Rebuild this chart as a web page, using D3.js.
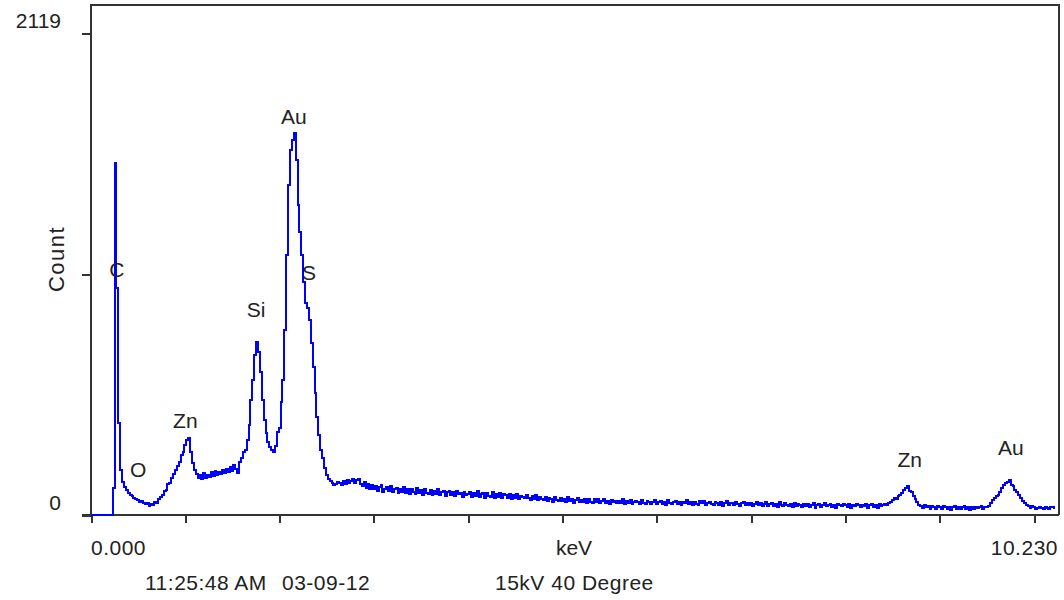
<!DOCTYPE html>
<html>
<head>
<meta charset="utf-8">
<title>EDS spectrum</title>
<script src="https://d3js.org/d3.v7.min.js"></script>
<style>
  body { margin: 0; background: #fff; }
  svg { display: block; }
  text { font-family: "Liberation Sans", Arial, sans-serif; fill: #222; }
  .axis path, .axis line { stroke: #333; stroke-width: 2px; shape-rendering: crispEdges; }
</style>
</head>
<body>
<svg width="1064" height="600"></svg>
<script>
// spectrum channels, 0.02 keV wide, starting at 0 keV
const channelKeV = 0.02;
const counts = [
  0, 0, 0, 0, 0, 0, 0, 0, 0, 0,
  0, 0, 120, 1547, 1000, 404, 198, 145, 123, 110,
  97, 88, 84, 75, 70, 66, 57, 62, 53, 48,
  53, 40, 48, 44, 57, 53, 70, 79, 88, 105,
  110, 136, 141, 163, 180, 198, 215, 233, 264, 277,
  308, 330, 338, 277, 229, 198, 180, 163, 176, 158,
  185, 163, 176, 167, 189, 171, 193, 176, 189, 180,
  198, 185, 202, 189, 211, 193, 220, 202, 185, 233,
  251, 277, 286, 330, 396, 506, 593, 703, 760, 716,
  629, 506, 418, 360, 321, 299, 286, 277, 303, 365,
  382, 497, 593, 813, 1143, 1451, 1605, 1648, 1679, 1561,
  1363, 1244, 1143, 1024, 932, 910, 857, 756, 651, 536,
  431, 352, 286, 251, 207, 176, 158, 149, 141, 132,
  136, 145, 141, 132, 149, 136, 154, 141, 149, 158,
  141, 154, 158, 136, 127, 145, 119, 136, 114, 132,
  114, 127, 105, 123, 132, 101, 114, 123, 105, 127,
  101, 114, 119, 97, 114, 101, 123, 97, 114, 92,
  114, 101, 92, 119, 97, 110, 88, 114, 97, 92,
  110, 88, 105, 92, 114, 88, 101, 105, 84, 101,
  105, 88, 101, 84, 105, 92, 97, 79, 101, 88,
  92, 101, 79, 97, 84, 105, 79, 92, 97, 75,
  97, 84, 79, 101, 75, 92, 79, 97, 75, 92,
  88, 75, 92, 70, 88, 75, 92, 70, 84, 79,
  75, 88, 75, 66, 84, 70, 88, 66, 79, 70,
  66, 79, 62, 75, 70, 57, 79, 66, 62, 75,
  62, 70, 57, 79, 62, 70, 53, 66, 75, 57,
  66, 57, 70, 53, 70, 57, 53, 70, 57, 70,
  53, 62, 70, 53, 62, 48, 66, 57, 62, 53,
  62, 53, 70, 48, 62, 53, 66, 48, 57, 62,
  57, 48, 66, 53, 48, 62, 57, 48, 57, 66,
  48, 57, 62, 48, 57, 44, 66, 53, 48, 57,
  62, 48, 57, 44, 57, 53, 66, 48, 57, 44,
  57, 48, 44, 62, 53, 62, 44, 53, 57, 48,
  44, 57, 53, 44, 57, 40, 53, 62, 44, 53,
  53, 44, 57, 48, 40, 53, 57, 44, 53, 44,
  53, 40, 48, 57, 44, 53, 40, 48, 57, 40,
  48, 53, 40, 48, 36, 57, 44, 40, 53, 44,
  40, 48, 36, 53, 40, 48, 44, 36, 48, 40,
  48, 36, 44, 53, 31, 44, 48, 36, 44, 53,
  40, 44, 48, 36, 44, 31, 48, 44, 40, 48,
  44, 36, 48, 31, 44, 40, 48, 44, 36, 44,
  40, 48, 31, 44, 48, 36, 44, 31, 48, 40,
  44, 48, 44, 53, 57, 66, 75, 70, 84, 88,
  97, 110, 119, 127, 105, 101, 84, 70, 57, 44,
  40, 31, 44, 36, 40, 27, 40, 36, 27, 40,
  36, 27, 40, 35, 27, 36, 23, 35, 40, 27,
  36, 27, 35, 40, 27, 36, 23, 36, 27, 35,
  31, 36, 40, 27, 36, 35, 40, 53, 66, 75,
  84, 88, 101, 119, 132, 141, 145, 154, 132, 127,
  110, 101, 88, 75, 62, 53, 44, 40, 31, 40,
  35, 27, 31, 36, 31, 27, 36, 31, 27, 35,
  36, 31
];

// element markers: name, keV position, count position of the text baseline
const peakNames = ["C", "O", "Zn", "Si", "Au", "S", "Zn", "Au"];
const peakKeV = [0.275, 0.5, 1.0, 1.75, 2.15, 2.31, 8.68, 9.75];
const peakTextCount = [1047, 167, 382, 870, 1719, 1033, 211, 264];

const xMax = 10.23;
const yMax = 2119;
const xTickValues = [0, 1, 2, 3, 4, 5, 6, 7, 8, 9, 10];
const yTickValues = [0, yMax / 2, yMax];
const yTickLabels = ["0", "", "2119"];

const svg = d3.select("svg");
const plotLeft = 91, plotRight = 1059, plotTop = 5, plotBottom = 515;

const x = d3.scaleLinear().domain([0, xMax]).range([plotLeft, 1056]);
const y = d3.scaleLinear().domain([0, yMax]).range([plotBottom, 33]);

// frame
svg.append("path")
  .attr("d", `M${plotLeft},${plotBottom}V${plotTop}H${plotRight}V${plotBottom}`)
  .attr("fill", "none")
  .attr("stroke", "#333")
  .attr("stroke-width", 2)
  .attr("shape-rendering", "crispEdges");

// x axis
svg.append("g")
  .attr("class", "axis")
  .attr("transform", `translate(0,${plotBottom})`)
  .call(d3.axisBottom(x).tickValues(xTickValues).tickSize(8).tickSizeOuter(0).tickFormat(""))
  .call(g => g.select(".domain").attr("d", `M${plotLeft - 9},0H${plotRight}`));

// y axis
svg.append("g")
  .attr("class", "axis")
  .attr("transform", `translate(${plotLeft},0)`)
  .call(d3.axisLeft(y).tickValues(yTickValues).tickSize(9).tickSizeOuter(0).tickFormat(""))
  .call(g => g.select(".domain").remove());

svg.selectAll(".ylab")
  .data(yTickValues)
  .enter().append("text")
  .attr("x", 61)
  .attr("y", d => y(d) - 5)
  .attr("text-anchor", "end")
  .attr("font-size", 21)
  .text((d, i) => yTickLabels[i]);

svg.append("text")
  .attr("x", plotLeft)
  .attr("y", 555)
  .attr("font-size", 21)
  .attr("letter-spacing", 0.5)
  .text("0.000");

svg.append("text")
  .attr("x", 1058)
  .attr("y", 555)
  .attr("text-anchor", "end")
  .attr("font-size", 21)
  .attr("letter-spacing", 0.5)
  .text("10.230");

svg.append("text")
  .attr("x", 574)
  .attr("y", 555)
  .attr("text-anchor", "middle")
  .attr("font-size", 21)
  .text("keV");

svg.append("text")
  .attr("transform", "translate(64,259) rotate(-90)")
  .attr("text-anchor", "middle")
  .attr("font-size", 22)
  .attr("letter-spacing", 1.5)
  .text("Count");

svg.append("text")
  .attr("x", 145)
  .attr("y", 590)
  .attr("font-size", 21)
  .attr("letter-spacing", 0.5)
  .text("11:25:48 AM");

svg.append("text")
  .attr("x", 282)
  .attr("y", 590)
  .attr("font-size", 21)
  .attr("letter-spacing", 0.5)
  .text("03-09-12");

svg.append("text")
  .attr("x", 495)
  .attr("y", 590)
  .attr("font-size", 21)
  .attr("letter-spacing", 0.5)
  .text("15kV 40 Degree");

// spectrum
const line = d3.line()
  .x((d, i) => x(i * channelKeV))
  .y(d => y(d))
  .curve(d3.curveStep);

svg.append("path")
  .datum(counts)
  .attr("d", line)
  .attr("fill", "none")
  .attr("stroke", "#0000ff")
  .attr("stroke-width", 2)
  .attr("shape-rendering", "crispEdges");

// element labels
svg.selectAll(".peak")
  .data(peakNames)
  .enter().append("text")
  .attr("x", (d, i) => x(peakKeV[i]))
  .attr("y", (d, i) => y(peakTextCount[i]))
  .attr("text-anchor", "middle")
  .attr("font-size", 21)
  .text(d => d);
</script>
</body>
</html>
